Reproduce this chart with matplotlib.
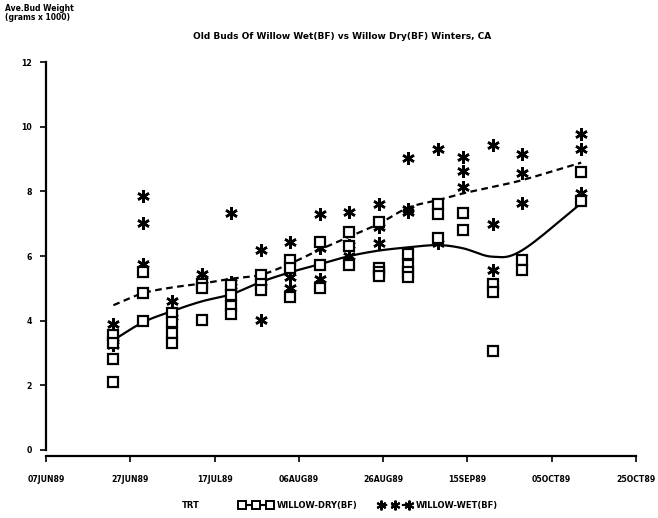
import numpy as np
import matplotlib
matplotlib.use("Agg")
import matplotlib.pyplot as plt
import matplotlib.dates as mdates
from matplotlib.lines import Line2D

# ---- data ----
dates = ["1989-06-23", "1989-06-30", "1989-07-07", "1989-07-14", "1989-07-21",
         "1989-07-28", "1989-08-04", "1989-08-11", "1989-08-18", "1989-08-25",
         "1989-09-01", "1989-09-08", "1989-09-14", "1989-09-21", "1989-09-28",
         "1989-10-12"]

dry_values = [
    [3.55, 3.3, 2.8, 2.1],
    [5.5, 4.85, 4.0],
    [4.25, 3.97, 3.62, 3.3],
    [5.15, 5.0, 4.03],
    [5.1, 4.79, 4.45, 4.2],
    [5.41, 5.15, 4.95],
    [5.88, 5.62, 4.72],
    [6.45, 5.72, 5.0],
    [6.75, 6.3, 5.72],
    [7.05, 5.62, 5.5, 5.38],
    [6.05, 5.72, 5.52, 5.36],
    [7.62, 7.3, 6.55],
    [7.34, 6.82],
    [5.15, 4.88, 3.06],
    [5.88, 5.57],
    [8.61, 7.7],
]

wet_values = [
    [3.9, 3.45, 3.25],
    [7.86, 7.03, 5.74],
    [4.6, 4.1],
    [5.45, 5.25],
    [7.32, 5.2, 4.95],
    [6.2, 5.2, 4.02],
    [6.44, 5.35, 5.0],
    [7.3, 6.25, 5.3],
    [7.37, 6.35, 6.0],
    [7.61, 6.9, 6.4],
    [9.05, 7.47, 7.37],
    [9.3, 6.4],
    [9.07, 8.64, 8.14],
    [9.43, 6.98, 5.58],
    [9.16, 8.58, 7.65],
    [9.77, 9.3, 7.94],
]

# smoothed curves read at each sampling date
dry_fit = [3.4, 3.95, 4.3, 4.6, 4.82, 5.2, 5.5, 5.75, 6.0, 6.17, 6.27, 6.34, 6.24, 5.98, 6.18, 7.63]
wet_fit = [4.48, 4.85, 5.03, 5.15, 5.3, 5.42, 5.77, 6.2, 6.6, 7.0, 7.5, 7.73, 7.94, 8.14, 8.35, 8.89]

tick_dates = ["1989-06-07", "1989-06-27", "1989-07-17", "1989-08-06",
              "1989-08-26", "1989-09-15", "1989-10-05", "1989-10-25"]
tick_labels = ["07JUN89", "27JUN89", "17JUL89", "06AUG89",
               "26AUG89", "15SEP89", "05OCT89", "25OCT89"]
y_ticks = [0, 2, 4, 6, 8, 10, 12]

title = "Old Buds Of Willow Wet(BF) vs Willow Dry(BF) Winters, CA"
ylabel = "Ave.Bud Weight\n(grams x 1000)"
legend_title = "TRT"
dry_label = "WILLOW-DRY(BF)"
wet_label = "WILLOW-WET(BF)"


def catmull_rom(x, y, n=12):
    x = np.asarray(x, float)
    y = np.asarray(y, float)
    xp = np.concatenate([[2 * x[0] - x[1]], x, [2 * x[-1] - x[-2]]])
    yp = np.concatenate([[2 * y[0] - y[1]], y, [2 * y[-1] - y[-2]]])
    xs, ys = [], []
    for i in range(1, len(xp) - 2):
        t = np.linspace(0, 1, n, endpoint=False)
        for arr, out in ((xp, xs), (yp, ys)):
            p0, p1, p2, p3 = arr[i - 1], arr[i], arr[i + 1], arr[i + 2]
            out.extend(0.5 * ((2 * p1) + (-p0 + p2) * t +
                              (2 * p0 - 5 * p1 + 4 * p2 - p3) * t ** 2 +
                              (-p0 + 3 * p1 - 3 * p2 + p3) * t ** 3))
    xs.append(x[-1]); ys.append(y[-1])
    return np.array(xs), np.array(ys)


plt.rcParams['font.family'] = ['DejaVu Sans']
plt.rcParams['font.weight'] = 'bold'

fig = plt.figure(figsize=(6.58, 5.18), dpi=100)
ax = fig.add_axes([0.0699, 0.1313, 0.8966, 0.7487])

dnum = mdates.date2num(np.array(dates, dtype="datetime64[D]"))

sq_kw = dict(marker='s', markersize=7, markerfacecolor='white',
             markeredgecolor='black', markeredgewidth=1.6, linestyle='none')
st_kw = dict(marker=(6, 2, 0), markersize=9, color='black',
             markeredgewidth=1.8, linestyle='none')

for d, vals in zip(dnum, wet_values):
    ax.plot([d] * len(vals), vals, **st_kw, zorder=3)
for d, vals in zip(dnum, dry_values):
    ax.plot([d] * len(vals), vals, **sq_kw, zorder=4)

xs, ys = catmull_rom(dnum, dry_fit)
ax.plot(xs, ys, color='black', lw=1.6, zorder=2)
xs, ys = catmull_rom(dnum, wet_fit)
ax.plot(xs, ys, color='black', lw=1.6, dashes=(3, 2), zorder=2)

tnum = mdates.date2num(np.array(tick_dates, dtype="datetime64[D]"))
ax.set_xlim(tnum[0], tnum[-1])
ax.set_ylim(0, 12)
ax.set_xticks(tnum)
ax.set_xticklabels(tick_labels)
ax.set_yticks(y_ticks)
ax.set_yticklabels([str(v) for v in y_ticks])
ax.tick_params(axis='both', direction='out', length=4, width=1.2,
               labelsize=5.6, pad=6)
ax.tick_params(axis='x', pad=10)
for s in ['top', 'right']:
    ax.spines[s].set_visible(False)
for s in ['left', 'bottom']:
    ax.spines[s].set_linewidth(1.6)
ax.spines['bottom'].set_position(('outward', 4))
ax.patch.set_alpha(0)

fig.text(0.52, 0.929, title, ha='center', va='center', fontsize=6.5, fontweight='bold')
fig.text(0.008, 0.992, ylabel, ha='left', va='top', fontsize=5.5,
         fontweight='bold', linespacing=1.0)

handles = [
    Line2D([0], [0], color='black', lw=1.5, marker='s', markersize=6,
           markerfacecolor='white', markeredgecolor='black', markeredgewidth=1.4),
    Line2D([0], [0], color='black', lw=1.5, dashes=(3, 2), marker=(6, 2, 0),
           markersize=7, markeredgewidth=1.5),
]
fig.text(0.29, 0.025, legend_title, ha='center', va='center', fontsize=6, fontweight='bold')
fig.legend(handles, [dry_label, wet_label], loc='center', bbox_to_anchor=(0.56, 0.025),
           ncol=2, frameon=False, numpoints=3, handlelength=4.0, handletextpad=0.5,
           columnspacing=2.5, prop={'size': 6, 'weight': 'bold'})

fig.savefig("out.png", dpi=100)
